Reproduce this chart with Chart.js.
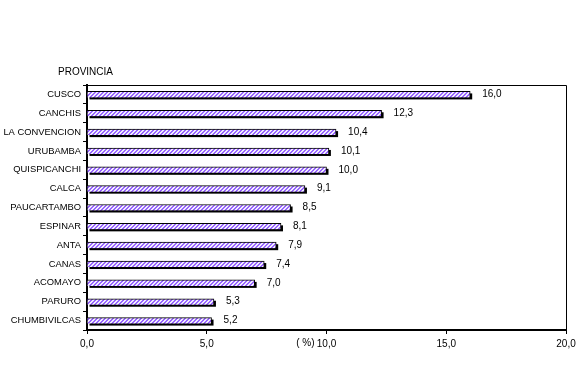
<!DOCTYPE html>
<html>
<head>
<meta charset="utf-8">
<script src="https://cdn.jsdelivr.net/npm/chart.js@4"></script>
<style>
  html, body { margin:0; padding:0; background:#fff; }
  #wrap { width:585px; height:367px; position:relative; }
</style>
</head>
<body>
<div id="wrap"><canvas id="chart" width="585" height="367"></canvas></div>
<script>
// provincias y porcentajes
const provincias = ['CUSCO','CANCHIS','LA CONVENCION','URUBAMBA','QUISPICANCHI','CALCA','PAUCARTAMBO','ESPINAR','ANTA','CANAS','ACOMAYO','PARURO','CHUMBIVILCAS'];
const valores = [16.0, 12.3, 10.4, 10.1, 10.0, 9.1, 8.5, 8.1, 7.9, 7.4, 7.0, 5.3, 5.2];
const xTicks = [0, 5, 10, 15, 20];

const FONT = 'Liberation Sans';
function fmt(v){ return v.toFixed(1).replace('.', ','); }

// relleno rayado (pixel a pixel)
function hatch(){
  const c = document.createElement('canvas');
  c.width = 4; c.height = 4;
  const g = c.getContext('2d');
  for (let y = 0; y < 4; y++) for (let x = 0; x < 4; x++) {
    g.fillStyle = ((x + y) % 4 < 2) ? '#f2eeff' : '#9966ff';
    g.fillRect(x, y, 1, 1);
  }
  return g.createPattern(c, 'repeat');
}

const extras = {
  id:'extras',
  beforeDatasetsDraw(chart){
    const ctx = chart.ctx;
    ctx.save();
    ctx.fillStyle = '#000';
    chart.getDatasetMeta(0).data.forEach(b => {
      const top = b.y - b.height/2;
      ctx.fillRect(b.base + 2, top + 2, b.x - b.base, b.height);
    });
    ctx.restore();
  },
  afterDatasetsDraw(chart){
    const ctx = chart.ctx, a = chart.chartArea;
    const xs = chart.scales.x;
    ctx.save();
    // marco del área
    ctx.strokeStyle = '#000'; ctx.lineWidth = 1;
    ctx.beginPath();
    ctx.moveTo(a.left, a.top + 0.5); ctx.lineTo(a.right + 0.5, a.top + 0.5); ctx.lineTo(a.right + 0.5, a.bottom);
    ctx.stroke();
    ctx.font = '10px "' + FONT + '"';
    ctx.fillStyle = '#000';
    ctx.textBaseline = 'middle';
    ctx.textAlign = 'left';
    chart.getDatasetMeta(0).data.forEach((b, i) => {
      ctx.fillText(fmt(valores[i]), b.x + 12, b.y);
    });
    ctx.textAlign = 'right';
    ctx.fillText('( %)', xs.getPixelForValue(10) - 12, 343);
    ctx.textAlign = 'left';
    ctx.fillText('PROVINCIA', 58, 72);
    ctx.restore();
  }
};

new Chart(document.getElementById('chart'), {
  type:'bar',
  data:{
    labels: provincias,
    datasets:[{
      data: valores,
      backgroundColor: hatch(),
      borderColor:'#000',
      borderWidth:{top:1, right:1, bottom:0, left:0},
      borderSkipped:false,
      barThickness:6
    }]
  },
  options:{
    indexAxis:'y',
    responsive:false,
    animation:false,
    layout:{ padding:{ top:85, right:19, bottom:0, left:0 } },
    plugins:{ legend:{display:false}, tooltip:{enabled:false} },
    scales:{
      x:{
        min:0, max:20,
        afterBuildTicks: s => { s.ticks = xTicks.map(v => ({value:v})); },
        afterFit: s => { s.height = 37; },
        grid:{ drawOnChartArea:false, color:'#000', tickLength:4 },
        border:{ color:'#000', width:2 },
        ticks:{ color:'#000', font:{family:FONT, size:10}, padding:4, callback: v => fmt(v) }
      },
      y:{
        afterFit: s => { s.width = 87; },
        grid:{ drawOnChartArea:false, color:'#000', tickLength:4, offset:true },
        border:{ color:'#000', width:2 },
        ticks:{ color:'#000', font:{family:FONT, size:9.4}, padding:2 }
      }
    }
  },
  plugins:[extras]
});
</script>
</body>
</html>
